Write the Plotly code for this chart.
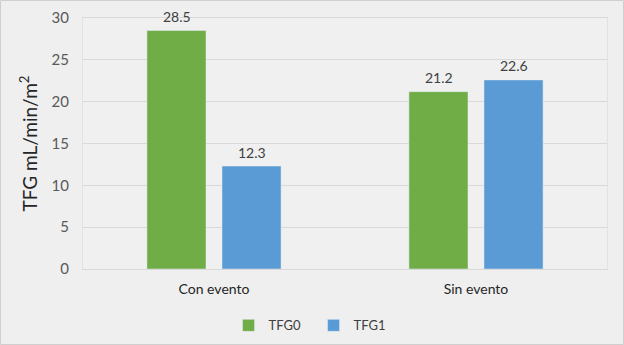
import plotly.graph_objects as go

categories = ["Con evento", "Sin evento"]
tfg0 = [28.5, 21.2]
tfg1 = [12.3, 22.6]
tfg0_labels = ["28.5", "21.2"]
tfg1_labels = ["12.3", "22.6"]
y_ticks = [0, 5, 10, 15, 20, 25, 30]

FONT = "Lato, 'Open Sans', sans-serif"

W, H = 624, 345
L, R, T, B = 83, 17, 18, 76
pw, ph = W - L - R, H - T - B
slot = 75  # px width of each bar slot in a group

fig = go.Figure()
fig.add_trace(go.Bar(name="TFG0", x=categories, y=tfg0, marker_color="#70ad47"))
fig.add_trace(go.Bar(name="TFG1", x=categories, y=tfg1, marker_color="#5b9bd5"))

annotations = []
for vals, labs, shift in ((tfg0, tfg0_labels, -slot / 2), (tfg1, tfg1_labels, slot / 2)):
    for c, v, t in zip(categories, vals, labs):
        annotations.append(dict(x=c, y=v, text=t, showarrow=False, xshift=shift,
                                yshift=14, font=dict(size=14, color="#404040"),
                                xref="x", yref="y"))

fig.update_layout(
    width=W, height=H,
    margin=dict(l=L, r=R, t=T, b=B, autoexpand=False),
    paper_bgcolor="#efefef",
    plot_bgcolor="#f0f0f0",
    font=dict(family=FONT, size=14, color="#404040"),
    barmode="group",
    bargap=0.427,
    bargroupgap=0.213,
    showlegend=True,
    legend=dict(orientation="h", x=0.44, xanchor="center", y=-0.165, yanchor="top",
                font=dict(size=13, color="#404040"), bgcolor="rgba(0,0,0,0)",
                itemwidth=30, entrywidth=40),
    xaxis=dict(showgrid=False, tickfont=dict(size=14, color="#262626"),
               showline=True, linecolor="#d9d9d9", linewidth=1, mirror=True,
               ticks="outside", ticklen=7, tickcolor="rgba(0,0,0,0)", automargin=False),
    yaxis=dict(range=[0, 30], tickvals=y_ticks, showgrid=True, gridcolor="#d9d9d9",
               gridwidth=1, zeroline=False, tickfont=dict(size=15, color="#595959"),
               showline=True, linecolor="#e2e2e2", mirror=True, automargin=False,
               ticks="outside", ticklen=10, tickcolor="rgba(0,0,0,0)",
               title=dict(text="TFG mL/min/m<sup>2</sup>", font=dict(size=19, color="#262626"),
                          standoff=8)),
    annotations=annotations,
    shapes=[dict(type="rect", xref="paper", yref="paper",
                 x0=-(L - 0.5) / pw, x1=1 + (R - 0.5) / pw,
                 y0=-(B - 0.5) / ph, y1=1 + (T - 0.5) / ph,
                 line=dict(color="#cfcfcf", width=1), layer="below")],
)

fig.write_html("out.html", config={"displayModeBar": False},
               post_script="document.body.style.margin='0';document.body.style.overflow='hidden';")
